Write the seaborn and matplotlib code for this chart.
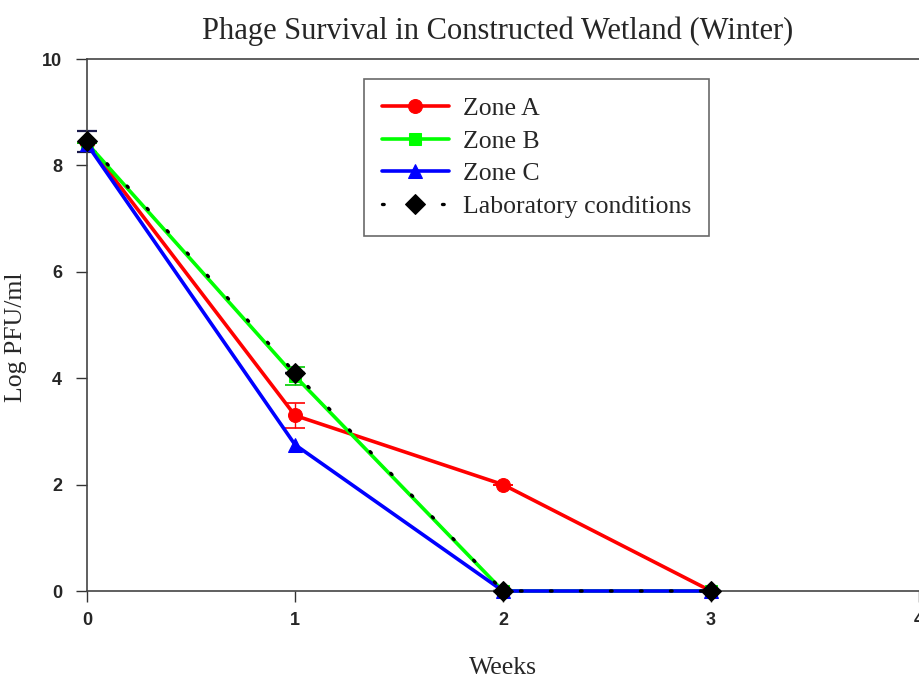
import matplotlib
matplotlib.use("Agg")
import matplotlib.pyplot as plt
import seaborn as sns
import pandas as pd

weeks = [0, 1, 2, 3]
zone_a = [8.42, 3.30, 2.00, 0.00]
zone_b = [8.42, 4.04, 0.00, 0.00]
zone_c = [8.40, 2.75, 0.00, 0.00]
lab = [8.45, 4.10, 0.00, 0.00]
zone_a_err = [0.0, 0.24, 0.0, 0.0]
zone_b_err = [0.0, 0.17, 0.0, 0.0]
lab_err = [0.19, 0.0, 0.0, 0.0]

series_names = ["Zone A", "Zone B", "Zone C", "Laboratory conditions"]
series_vals = [zone_a, zone_b, zone_c, lab]

sns.set_theme(style="white")
plt.rcParams['font.family'] = ['Liberation Serif', 'DejaVu Serif']

fig = plt.figure(figsize=(9.19, 6.79), dpi=100)
ax = fig.add_axes([87/919, 1 - 591/679, 1 - 87/919, (591 - 59)/679])

styles = {
    "Zone A": dict(color="#ff0000", marker="o", markersize=10, linestyle="-", lw=2.6),
    "Zone B": dict(color="#00ff00", marker="s", markersize=8.5, linestyle="-", lw=2.6),
    "Zone C": dict(color="#0000ff", marker="^", markersize=10, linestyle="-", lw=2.6),
    "Laboratory conditions": dict(color="black", marker="D", markersize=10,
                                  linestyle=(0, (0.5, 8.5)), lw=2.4),
}

for name, vals in zip(series_names, series_vals):
    df = pd.DataFrame({"Weeks": weeks, "Log": vals})
    st = styles[name]
    sns.lineplot(data=df, x="Weeks", y="Log", ax=ax, label=name,
                 color=st["color"], marker=st["marker"], markersize=st["markersize"],
                 linestyle=st["linestyle"], linewidth=st["lw"],
                 markeredgecolor=st["color"], dash_capstyle="round", zorder=3,
                 clip_on=False)

# error bars
for vals, err, col, ct in [(zone_a, zone_a_err, "#ff0000", 1.2),
                           (zone_b, zone_b_err, "#00cc00", 1.2),
                           (lab, lab_err, "#1a1a4a", 1.6)]:
    _, caps, bars = ax.errorbar(weeks, vals, yerr=err, fmt="none", ecolor=col,
                                elinewidth=1.0, capsize=7, capthick=ct, zorder=2)
    for c in caps:
        c.set_clip_on(False)
    for b in bars:
        b.set_clip_on(False)

ax.set_xlim(0, 4)
ax.set_ylim(0, 10)
ax.set_xticks([0, 1, 2, 3, 4])
ax.set_yticks([0, 2, 4, 6, 8, 10])
for lbl in ax.get_xticklabels() + ax.get_yticklabels():
    lbl.set_fontfamily(['Liberation Sans', 'DejaVu Sans'])
    lbl.set_fontweight('bold')
    lbl.set_fontsize(13)
ax.tick_params(axis='both', direction='out', length=8, width=1, color='#333333',
               bottom=True, left=True)
ax.tick_params(axis='y', pad=10)
ax.tick_params(axis='x', pad=7)

for side in ['top', 'bottom', 'left']:
    ax.spines[side].set_color('#444444')
    ax.spines[side].set_linewidth(1.2)
ax.spines['right'].set_visible(False)

ax.set_xlabel("Weeks", fontsize=18.5, labelpad=20)
ax.set_ylabel("Log PFU/ml", fontsize=18.5)
ax.yaxis.set_label_coords(-0.072, 0.477)
fig.text(498/919, 1 - 31/679, "Phage Survival in Constructed Wetland (Winter)",
         ha='center', va='center', fontsize=22)

leg = ax.legend(loc='upper left', bbox_to_anchor=((364 - 87)/832, 1 - (79 - 59)/532),
                borderaxespad=0,
                fontsize=18.5, frameon=True, fancybox=False, edgecolor='#444444',
                handlelength=2.6, borderpad=0.7, labelspacing=0.38, handletextpad=0.55)
leg.get_frame().set_linewidth(1.2)

fig.savefig("out.png", dpi=100)
